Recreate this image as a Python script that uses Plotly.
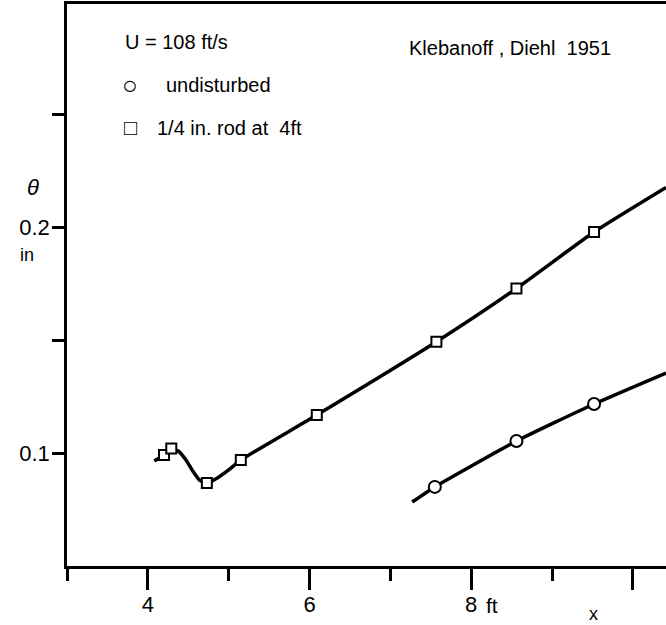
import plotly.graph_objects as go

# --- data ---
rod_x = [4.20, 4.29, 4.73, 5.15, 6.09, 7.57, 8.56, 9.52]
rod_y = [0.0991, 0.1020, 0.0867, 0.0969, 0.1168, 0.1492, 0.1728, 0.1978]

und_x = [7.55, 8.56, 9.52]
und_y = [0.0850, 0.1053, 0.1217]

# faired curves drawn through the points
rod_curve_x = [4.08, 4.20, 4.29, 4.38, 4.47, 4.56, 4.64, 4.73, 4.88, 5.00, 5.15, 6.09, 7.57, 8.56, 9.52, 10.41]
rod_curve_y = [0.0965, 0.0991, 0.1018, 0.1008, 0.0970, 0.0918, 0.0880, 0.0867, 0.0894, 0.0925, 0.0969,
               0.1168, 0.1492, 0.1728, 0.1978, 0.2175]
und_curve_x = [7.27, 7.55, 8.56, 9.52, 10.41]
und_curve_y = [0.0783, 0.0850, 0.1053, 0.1217, 0.1354]

x_major = [4, 6, 8, 10]
x_major_text = ["4", "6", "8", ""]
x_minor = [3, 5, 7, 9]
y_ticks = [0.1, 0.15, 0.2, 0.25]
y_ticktext = ["0.1", "", "0.2", ""]

FONT = "Liberation Sans, Arial, sans-serif"

fig = go.Figure()
fig.add_trace(go.Scatter(x=rod_curve_x, y=rod_curve_y, mode="lines",
                         line=dict(color="black", width=3.5, shape="spline", smoothing=0.5),
                         showlegend=False, hoverinfo="skip"))
fig.add_trace(go.Scatter(x=und_curve_x, y=und_curve_y, mode="lines",
                         line=dict(color="black", width=3.5, shape="spline", smoothing=0.5),
                         showlegend=False, hoverinfo="skip"))
fig.add_trace(go.Scatter(x=rod_x, y=rod_y, mode="markers", name="1/4 in. rod at 4ft",
                         marker=dict(symbol="square", size=10, color="white",
                                     line=dict(color="black", width=2)),
                         showlegend=False))
fig.add_trace(go.Scatter(x=und_x, y=und_y, mode="markers", name="undisturbed",
                         marker=dict(symbol="circle", size=12, color="white",
                                     line=dict(color="black", width=2)),
                         showlegend=False))

fig.update_layout(
    width=666, height=625,
    margin=dict(l=67, r=0, t=4, b=59),
    paper_bgcolor="white", plot_bgcolor="white",
    font=dict(family=FONT, size=20, color="black"),
    xaxis=dict(range=[3, 10.41], showgrid=False, zeroline=False,
               showline=True, linecolor="black", linewidth=2.5, mirror=True,
               tickmode="array", tickvals=x_major, ticktext=x_major_text,
               ticks="outside", ticklen=21, tickwidth=2.5, tickcolor="black",
               ticklabelstandoff=-4,
               tickfont=dict(family=FONT, size=22, color="black"),
               minor=dict(tickmode="array", tickvals=x_minor, ticks="outside",
                          ticklen=12, tickwidth=2.5, tickcolor="black", showgrid=False)),
    yaxis=dict(range=[0.05, 0.2987], showgrid=False, zeroline=False,
               showline=True, linecolor="black", linewidth=2.5,
               tickmode="array", tickvals=y_ticks, ticktext=y_ticktext,
               ticks="outside", ticklen=12, tickwidth=2.5, tickcolor="black",
               ticklabelstandoff=-2,
               tickfont=dict(family=FONT, size=22, color="black")),
)

ann = [
    dict(text="U = 108 ft/s", x=123, y=42, xanchor="left"),
    dict(text="Klebanoff , Diehl  1951", x=407, y=48, xanchor="left"),
    dict(text="○", x=130, y=85, xanchor="center", size=26),
    dict(text="undisturbed", x=164, y=85, xanchor="left"),
    dict(text="□", x=130, y=128, xanchor="center", size=22),
    dict(text="1/4 in. rod at  4ft", x=155, y=128, xanchor="left"),
    dict(text="<i>θ</i>", x=33, y=187, xanchor="center", size=22),
    dict(text="in", x=27, y=255, xanchor="center", size=18),
    dict(text="ft", x=492, y=605, xanchor="center", size=21),
    dict(text="x", x=593, y=614, xanchor="center", size=18),
]
for a in ann:
    fig.add_annotation(text=a["text"], xref="paper", yref="paper",
                       x=(a["x"] - 67) / (666 - 67),
                       y=(566 - a["y"]) / (566 - 4),
                       xanchor=a["xanchor"], yanchor="middle", showarrow=False,
                       font=dict(family=FONT, size=a.get("size", 20), color="black"))

fig.write_html("out.html")
